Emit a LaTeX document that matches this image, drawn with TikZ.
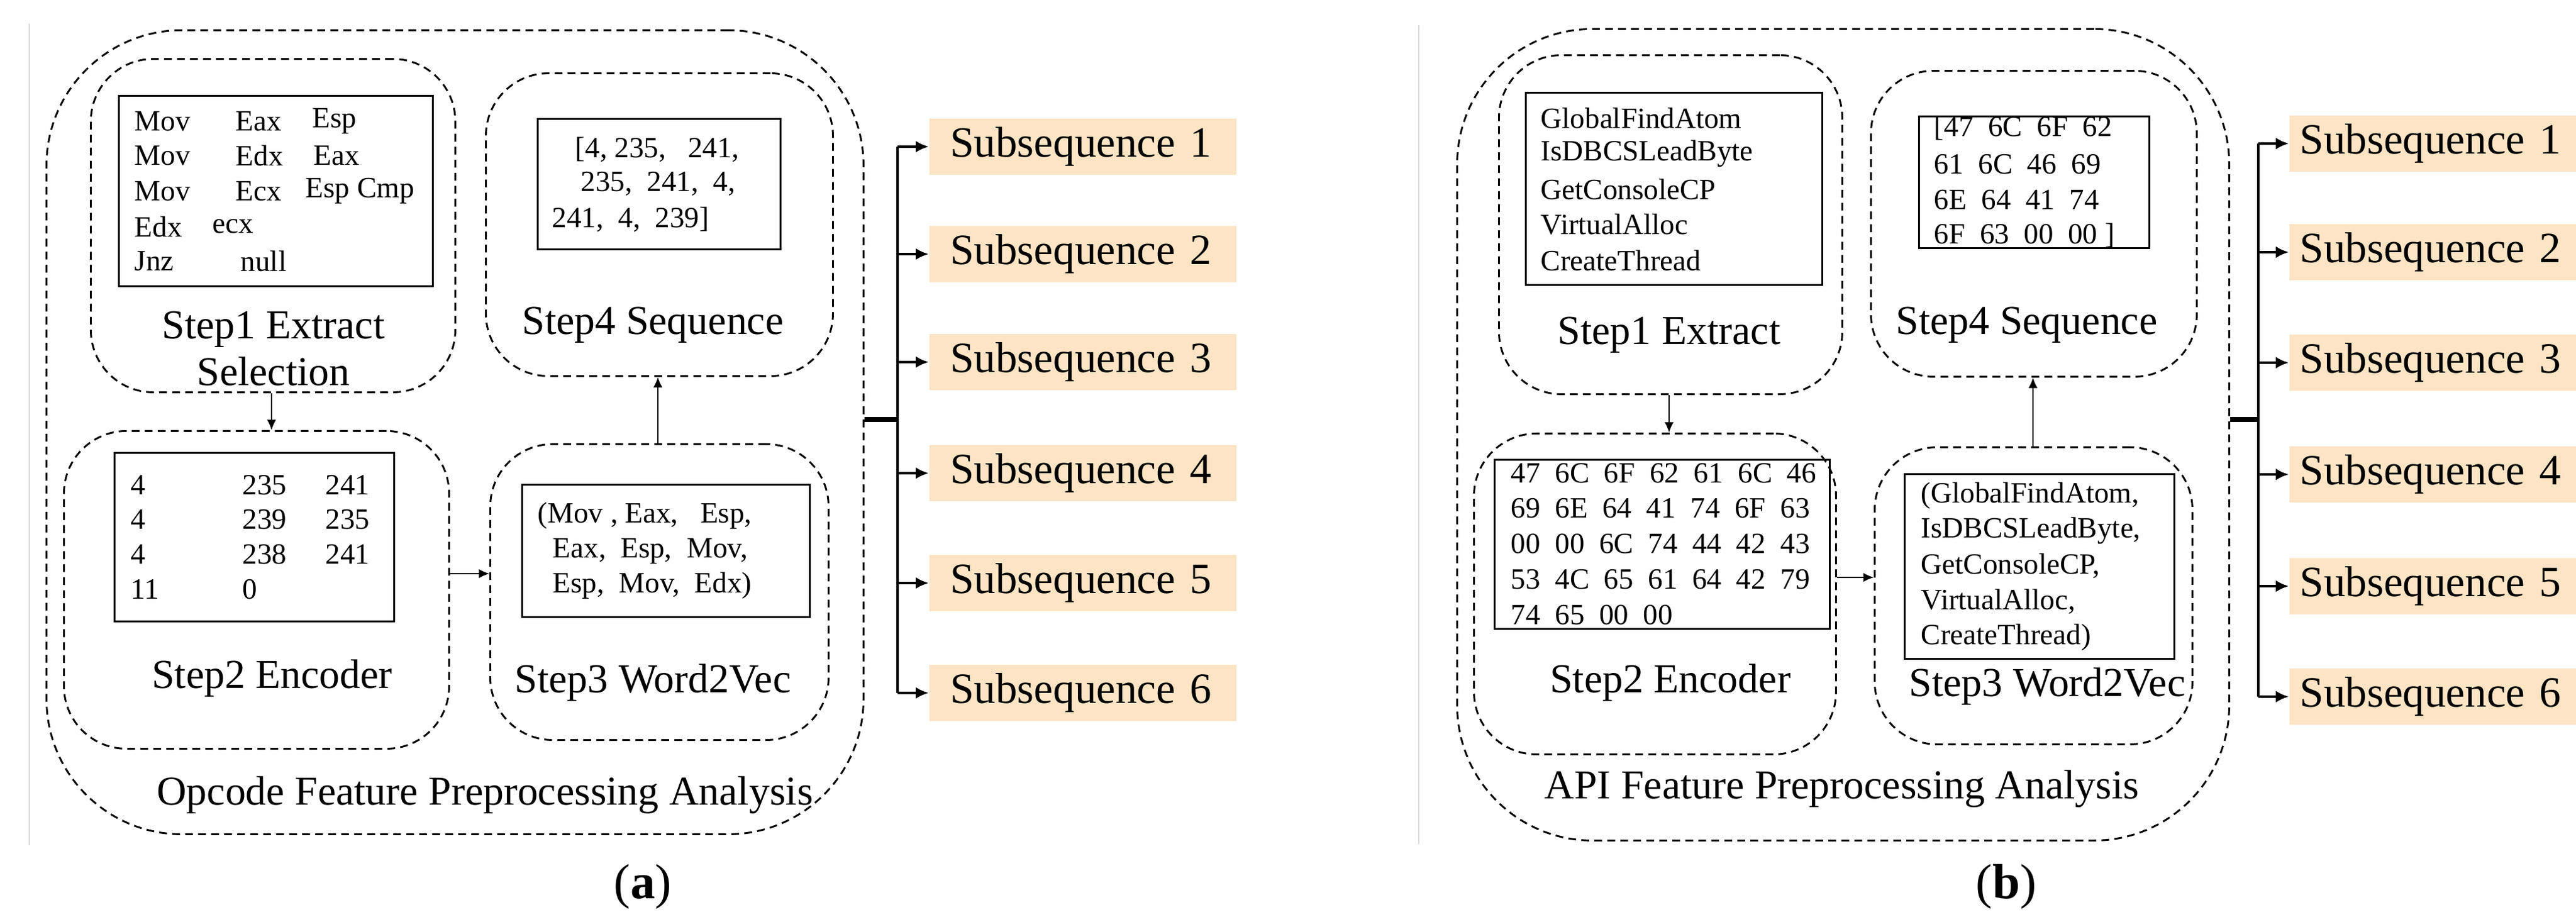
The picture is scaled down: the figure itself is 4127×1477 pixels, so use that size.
\documentclass[tikz,border=0pt]{standalone}
\usepackage{fontspec}
\setmainfont{Liberation Serif}
\usetikzlibrary{arrows.meta}
\definecolor{subfill}{RGB}{252,228,196}
\begin{document}
\begin{tikzpicture}[x=0.24pt,y=-0.24pt,
  sz/.style 2 args={minimum width={#1*0.24pt},minimum height={#2*0.24pt}},
  dbox/.style={draw,dash pattern=on 3pt off 2pt,line width=0.7pt,rounded corners=24pt,anchor=north west,inner sep=0pt},
  obox/.style={dbox,rounded corners=52pt},
  rbox/.style={draw,line width=0.7pt,anchor=north west,inner sep=0pt},
  tx/.style={anchor=west,inner sep=0pt,font=\fontsize{11.3}{13}\selectfont},
  lab/.style={inner sep=0pt,font=\fontsize{15.8}{18}\selectfont},
  sub/.style={fill=subfill,anchor=west,inner sep=0pt,text width=#1,minimum height=21.4pt,align=left,font=\fontsize{16.6}{20}\selectfont},
  arr/.style={-{Latex[length=4pt,width=3.5pt]},line width=0.5pt},
  barr/.style={-{Latex[length=5pt,width=4.5pt]},line width=1.1pt},
  gl/.style={draw=black!15,line width=0.6pt}]
\useasboundingbox (0,0) rectangle (4127,1477);
% separators
\draw[gl] (47,38) -- (47,1354);
\draw[gl] (2273,40) -- (2273,1352);
% ===== panel a =====
\node[obox,sz={1309}{1288}] (ao) at (73,47) {};
\node[dbox,sz={584}{534}] (a1) at (144,93) {};
\node[dbox,sz={556}{485}] (a4) at (777,116) {};
\node[dbox,sz={617}{509}] (a2) at (101,689) {};
\node[dbox,sz={542}{474}] (a3) at (784,710) {};
\node[rbox,sz={503}{305}] (ar1) at (189,152) {};
\node[rbox,sz={389}{209}] (ar4) at (860,189) {};
\node[rbox,sz={448}{270}] (ar2) at (182,724) {};
\node[rbox,sz={461}{212}] (ar3) at (835,775) {};
% r1 text
\node[tx] (t11) at (215,194) {Mov}; \node[tx] (t12) at (377,194) {Eax}; \node[tx] (t13) at (500,194) {Esp};
\node[tx] (t21) at (215,249) {Mov}; \node[tx] (t22) at (377,249) {Edx}; \node[tx] (t23) at (502,249) {Eax};
\node[tx] (t31) at (215,306) {Mov}; \node[tx] (t32) at (377,306) {Ecx}; \node[tx] (t33) at (489,306) {Esp Cmp};
\node[tx] (t41) at (215,363) {Edx}; \node[tx] (t42) at (340,363) {ecx};
\node[tx] (t51) at (215,418) {Jnz}; \node[tx] (t52) at (385,418) {null};
% r4 text
\node[tx] (u1) at (921,240) {[4, 235,\ \ \ 241,};
\node[tx] (u2) at (930,295) {235,\ \ 241,\ \ 4,};
\node[tx] (u3) at (884,352) {241,\ \ 4,\ \ 239]};
% r2 text
\node[tx] (e11) at (209,777) {4}; \node[tx] (e12) at (388,777) {235}; \node[tx] (e13) at (521,777) {241};
\node[tx] (e21) at (209,832) {4}; \node[tx] (e22) at (388,832) {239}; \node[tx] (e23) at (521,832) {235};
\node[tx] (e31) at (209,888) {4}; \node[tx] (e32) at (388,888) {238}; \node[tx] (e33) at (521,888) {241};
\node[tx] (e41) at (209,944) {11}; \node[tx] (e42) at (388,944) {0};
% r3 text
\node[tx] (w1) at (861,826) {(Mov , Eax,\ \ \ Esp,};
\node[tx] (w2) at (885,883) {Eax,\ \ Esp,\ \ Mov,};
\node[tx] (w3) at (885,938) {Esp,\ \ Mov,\ \ Edx)};
% labels
\node[lab,align=center] (l1) at (438,559) {Step1 Extract\\Selection};
\node[lab] (l4) at (1046,521) {Step4 Sequence};
\node[lab] (l2) at (436,1087) {Step2 Encoder};
\node[lab] (l3) at (1046,1094) {Step3 Word2Vec};
\node[lab] (lo) at (777,1274) {Opcode Feature Preprocessing Analysis};
\node[font=\fontsize{19}{22}\selectfont] (ca) at (1030,1420) {(\textbf{a})};
% arrows
\draw[arr] (a1.south -| 435,0) -- (a2.north -| 435,0);
\draw[arr] (a2.east |- 0,919) -- (a3.west |- 0,919);
\draw[arr] (a3.north -| 1054,0) -- (a4.south -| 1054,0);
% subsequences
\foreach \i/\y in {1/235,2/407,3/580,4/758,5/934,6/1110}{
  \node[sub=118pt] (as\i) at (1488,\y) {\hspace*{8pt}Subsequence \i};
}
\coordinate (ab) at (1438,672);
\draw[line width=2pt] (ao.east |- ab) -- (ab);
\draw[line width=1.1pt] (ab |- as1) -- (ab |- as6);
\foreach \i in {1,...,6}{\draw[barr] (ab |- as\i) -- (as\i.west);}
% ===== panel b =====
\node[obox,sz={1237}{1300}] (bo) at (2333,45) {};
\node[dbox,sz={550}{543}] (b1) at (2400,87) {};
\node[dbox,sz={522}{490}] (b4) at (2996,112) {};
\node[dbox,sz={580}{514}] (b2) at (2360,693) {};
\node[dbox,sz={509}{476}] (b3) at (3002,715) {};
\node[rbox,sz={475}{308}] (br1) at (2443,147) {};
\node[rbox,sz={369}{211}] (br4) at (3073,185) {};
\node[rbox,sz={537}{271}] (br2) at (2393,735) {};
\node[rbox,sz={432}{296}] (br3) at (3050,758) {};
\node[tx] (g1) at (2468,189) {GlobalFindAtom};
\node[tx] (g2) at (2468,246) {IsDBCSLeadByte};
\node[tx] (g3) at (2468,303) {GetConsoleCP};
\node[tx] (g4) at (2468,360) {VirtualAlloc};
\node[tx] (g5) at (2468,417) {CreateThread};
\node[tx] (h1) at (3098,205) {[47\ \ 6C\ \ 6F\ \ 62};
\node[tx] (h2) at (3098,263) {61\ \ 6C\ \ 46\ \ 69};
\node[tx] (h3) at (3098,320) {6E\ \ 64\ \ 41\ \ 74};
\node[tx] (h4) at (3098,377) {6F\ \ 63\ \ 00\ \ 00 ]};
\node[tx] (k1) at (2420,758) {47\ \ 6C\ \ 6F\ \ 62\ \ 61\ \ 6C\ \ 46};
\node[tx] (k2) at (2420,814) {69\ \ 6E\ \ 64\ \ 41\ \ 74\ \ 6F\ \ 63};
\node[tx] (k3) at (2420,871) {00\ \ 00\ \ 6C\ \ 74\ \ 44\ \ 42\ \ 43};
\node[tx] (k4) at (2420,928) {53\ \ 4C\ \ 65\ \ 61\ \ 64\ \ 42\ \ 79};
\node[tx] (k5) at (2420,985) {74\ \ 65\ \ 00\ \ 00};
\node[tx] (m1) at (3077,794) {(GlobalFindAtom,};
\node[tx] (m2) at (3077,850) {IsDBCSLeadByte,};
\node[tx] (m3) at (3077,907) {GetConsoleCP,};
\node[tx] (m4) at (3077,964) {VirtualAlloc,};
\node[tx] (m5) at (3077,1021) {CreateThread)};
\node[lab] (n1) at (2674,537) {Step1 Extract};
\node[lab] (n4) at (3247,521) {Step4 Sequence};
\node[lab] (n2) at (2676,1094) {Step2 Encoder};
\node[lab] (n3) at (3280,1100) {Step3 Word2Vec};
\node[lab] (no) at (2951,1264) {API Feature Preprocessing Analysis};
\node[font=\fontsize{19}{22}\selectfont] (cb) at (3214,1420) {(\textbf{b})};
\draw[arr] (b1.south -| 2674,0) -- (b2.north -| 2674,0);
\draw[arr] (b2.east |- 0,925) -- (b3.west |- 0,925);
\draw[arr] (b3.north -| 3257,0) -- (b4.south -| 3257,0);
\foreach \i/\y in {1/230,2/404,3/581,4/760,5/939,6/1116}{
  \node[sub=110.6pt] (bs\i) at (3667,\y) {\hspace*{4pt}Subsequence \i};
}
\coordinate (bb) at (3618,672);
\draw[line width=2pt] (bo.east |- bb) -- (bb);
\draw[line width=1.1pt] (bb |- bs1) -- (bb |- bs6);
\foreach \i in {1,...,6}{\draw[barr] (bb |- bs\i) -- (bs\i.west);}
\end{tikzpicture}
\end{document}
